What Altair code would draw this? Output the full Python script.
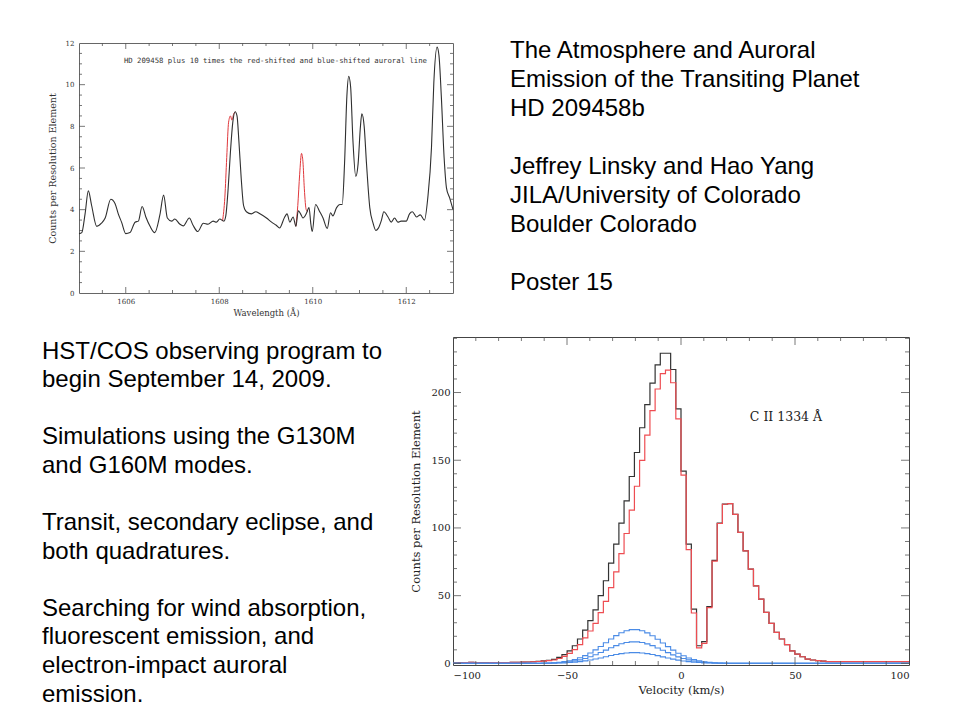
import altair as alt
import pandas as pd

# ---------------- top panel: spectrum near 1610 A ----------------
wl_black = [1605.00, 1605.06, 1605.13, 1605.20, 1605.27, 1605.38, 1605.48, 1605.56, 1605.68, 1605.77,
            1605.84, 1605.91, 1606.00, 1606.09, 1606.20, 1606.27, 1606.35, 1606.43, 1606.52, 1606.62,
            1606.73, 1606.81, 1606.89, 1606.98, 1607.05, 1607.16, 1607.23, 1607.36, 1607.44, 1607.54,
            1607.66, 1607.76, 1607.87, 1607.94, 1608.01, 1608.10, 1608.14, 1608.19, 1608.24, 1608.29,
            1608.34, 1608.38, 1608.42, 1608.47, 1608.52, 1608.58, 1608.69, 1608.78, 1608.87, 1609.01,
            1609.12, 1609.22, 1609.29, 1609.40, 1609.45, 1609.51, 1609.58, 1609.64, 1609.69, 1609.74,
            1609.79, 1609.86, 1609.92, 1609.96, 1609.99, 1610.06, 1610.15, 1610.22, 1610.31, 1610.38,
            1610.43, 1610.51, 1610.58, 1610.63, 1610.68, 1610.73, 1610.77, 1610.81, 1610.86, 1610.92,
            1610.97, 1611.02, 1611.05, 1611.10, 1611.15, 1611.22, 1611.29, 1611.35, 1611.40, 1611.47,
            1611.52, 1611.61, 1611.68, 1611.75, 1611.82, 1611.89, 1612.00, 1612.07, 1612.13, 1612.22,
            1612.30, 1612.39, 1612.46, 1612.54, 1612.59, 1612.66, 1612.70, 1612.75, 1612.81, 1612.86,
            1612.93, 1613.00]
cnt_black = [2.85, 2.9, 3.8, 4.9, 4.2, 3.2, 3.35, 3.6, 4.5, 4.3,
             3.8, 3.4, 2.85, 2.9, 3.4, 3.45, 4.15, 3.65, 3.2, 2.9,
             3.75, 4.7, 3.6, 3.45, 3.55, 3.3, 3.22, 3.6, 3.25, 2.95,
             3.35, 3.3, 3.45, 3.4, 3.55, 3.45, 3.7, 5.0, 6.8, 8.2,
             8.7, 8.5, 7.3, 5.5, 4.2, 3.9, 3.8, 3.9, 3.8, 3.6,
             3.4, 3.25, 3.12, 3.65, 3.8, 3.4, 3.65, 3.2, 3.95, 3.8,
             3.6, 3.8, 4.1, 3.3, 2.95, 4.25, 3.9, 3.6, 3.1, 3.85,
             3.7, 4.1, 4.25, 4.25, 6.2, 9.45, 10.4, 9.9, 7.3, 5.6,
             6.2, 8.0, 8.6, 8.0, 6.2, 4.1, 3.35, 3.0, 3.1, 3.5,
             3.9, 3.65, 3.4, 3.6, 3.4, 3.45, 3.45, 3.8, 3.9, 3.65,
             3.75, 3.5, 4.55, 7.0, 10.1, 11.8, 11.4, 9.45, 6.5, 5.05,
             4.55, 4.0]
wl_red1 = [1608.07, 1608.12, 1608.16, 1608.20, 1608.24, 1608.27, 1608.31, 1608.34]
cnt_red1 = [3.45, 4.6, 6.5, 8.2, 8.5, 8.3, 8.6, 8.7]
wl_red2 = [1609.64, 1609.68, 1609.72, 1609.76, 1609.79, 1609.82, 1609.86, 1609.90]
cnt_red2 = [3.2, 4.2, 5.7, 6.7, 6.3, 5.0, 4.0, 3.9]

# ---------------- bottom panel: C II 1334 profile ----------------
bin_width = 2.27
vel_edges = [-100.0] + [round(bin_width * k, 2) for k in range(-43, 44)] + [100.0]

black_cnt = ([0.2, 0.3, 0.6, 0.7, 0.5, 0.4, 0.4, 0.5, 0.5, 0.6, 0.6, 0.7, 0.8, 0.9] +
             [1.0, 1.2, 1.5, 1.8, 2.3, 3.0, 4.4, 6.4, 9.3, 13,
              18, 24.5, 31.5, 39.5, 50, 61, 74, 88, 103.6, 120,
              138, 155.7, 174, 191, 207, 220.4, 229, 229, 217, 188,
              142, 88, 40, 13, 16, 42, 76, 103.6, 117.6, 118,
              110, 96.7, 83, 69.6, 57.3, 47.5, 37.6, 29.5, 22.9, 18,
              13.8, 9.3, 6.9, 4.9, 3.2, 2.5, 2.0, 1.7] +
             [1.3] * 16)
red_cnt = ([0.2, 0.3, 0.6, 0.7, 0.5, 0.4, 0.4, 0.5, 0.5, 0.6, 0.6, 0.7, 0.8, 0.9] +
           [1.0, 1.15, 1.4, 1.6, 2.0, 2.5, 3.6, 5.1, 7.4, 10.2,
            13.9, 18.8, 23.9, 29.6, 37.5, 45.8, 56, 67.5, 81, 95.9,
            113.1, 130.8, 149.9, 168.5, 186.6, 202.6, 213.9, 216.6, 207.2, 180.5,
            139, 84, 37.2, 11.5, 14.8, 41.2, 75.5, 103.3, 117.5, 118,
            110, 96.7, 83, 69.6, 57.3, 47.5, 37.6, 29.5, 22.9, 18,
            13.8, 9.3, 6.9, 4.9, 3.2, 2.5, 2.0, 1.7] +
           [1.3] * 16)
blue_hi = ([0.0] * 14 +
           [0.03, 0.05, 0.09, 0.17, 0.29, 0.48, 0.79, 1.26, 1.93, 2.85,
            4.1, 5.7, 7.65, 9.95, 12.5, 15.25, 18.0, 20.5, 22.6, 24.1,
            24.9, 24.9, 24.1, 22.5, 20.4, 17.8, 15.1, 12.4, 9.8, 7.5,
            5.6, 4.0, 2.8, 1.9, 1.2, 0.77, 0.47, 0.27, 0.15, 0.08, 0.0] +
           [0.0] * 33)
blue_mid = ([0.0] * 14 +
            [0.02, 0.03, 0.06, 0.11, 0.19, 0.31, 0.51, 0.81, 1.24, 1.82,
             2.62, 3.65, 4.9, 6.37, 8.0, 9.76, 11.5, 13.1, 14.5, 15.4,
             15.9, 15.9, 15.4, 14.4, 13.1, 11.4, 9.66, 7.94, 6.27, 4.8,
             3.58, 2.56, 1.79, 1.22, 0.77, 0.49, 0.3, 0.17, 0.1, 0.05, 0.0] +
            [0.0] * 33)
blue_lo = ([0.0] * 14 +
           [0.01, 0.02, 0.03, 0.05, 0.09, 0.15, 0.25, 0.4, 0.62, 0.91,
            1.31, 1.82, 2.45, 3.18, 4.0, 4.88, 5.76, 6.56, 7.23, 7.71,
            7.97, 7.97, 7.71, 7.2, 6.53, 5.7, 4.83, 3.97, 3.14, 2.4,
            1.79, 1.28, 0.9, 0.61, 0.38, 0.25, 0.15, 0.09, 0.05, 0.03, 0.0] +
           [0.0] * 33)

# ---------------- slide text ----------------
top_text = ["The Atmosphere and Auroral", "Emission of the Transiting Planet", "HD 209458b", "",
            "Jeffrey Linsky and Hao Yang", "JILA/University of Colorado", "Boulder Colorado", "",
            "Poster 15"]
left_text = ["HST/COS observing program to", "begin September 14, 2009.", "",
             "Simulations using the G130M", "and G160M modes.", "",
             "Transit, secondary eclipse, and", "both quadratures.", "",
             "Searching for wind absorption,", "fluorescent emission, and",
             "electron-impact auroral", "emission."]

SERIF = "DejaVu Serif"
TICK_COLOR = "#555555"


def tick_layers(field, scale, axis, orient, majors, minors, W, H, Lmaj, Lmin):
    out = []
    for vals, L in ((majors, Lmaj), (minors, Lmin)):
        df = pd.DataFrame({field: vals})
        base = alt.Chart(df).mark_rule(color=TICK_COLOR, strokeWidth=0.8)
        if orient in ("bottom", "top"):
            xenc = alt.X(f"{field}:Q", scale=scale, axis=axis)
            if orient == "bottom":
                out.append(base.encode(x=xenc, y=alt.value(H), y2=alt.value(H - L)))
            else:
                out.append(base.encode(x=xenc, y=alt.value(0), y2=alt.value(L)))
        else:
            yenc = alt.Y(f"{field}:Q", scale=scale, axis=axis)
            if orient == "left":
                out.append(base.encode(y=yenc, x=alt.value(0), x2=alt.value(L)))
            else:
                out.append(base.encode(y=yenc, x=alt.value(W), x2=alt.value(W - L)))
    return out


# ---------- chart 1 ----------
W1, H1 = 374, 250
xs1 = alt.Scale(domain=[1605, 1613], nice=False, zero=False)
ys1 = alt.Scale(domain=[0, 12], nice=False, zero=False)
xaxis1 = alt.Axis(values=[1606, 1608, 1610, 1612], format="d", ticks=False, domain=False, grid=False,
                  labelFont=SERIF, labelFontSize=7, labelColor="#333", labelPadding=4,
                  title="Wavelength (Å)", titleFont=SERIF, titleFontSize=8.5, titleFontWeight="normal",
                  titleColor="#333", titlePadding=4)
yaxis1 = alt.Axis(values=[0, 2, 4, 6, 8, 10, 12], format="d", ticks=False, domain=False, grid=False,
                  labelFont=SERIF, labelFontSize=7, labelColor="#333", labelPadding=5,
                  title="Counts per Resolution Element", titleFont=SERIF, titleFontSize=9.5,
                  titleFontWeight="normal", titleColor="#333", titlePadding=8)

df_black1 = pd.DataFrame({"wl": wl_black, "counts": cnt_black})
df_red1 = pd.DataFrame({"wl": wl_red1 + wl_red2, "counts": cnt_red1 + cnt_red2,
                        "seg": ["a"] * len(wl_red1) + ["b"] * len(wl_red2)})

X1 = alt.X("wl:Q", scale=xs1, axis=xaxis1)
Y1 = alt.Y("counts:Q", scale=ys1, axis=yaxis1)

red_line1 = alt.Chart(df_red1).mark_line(color="#e0383c", strokeWidth=1, interpolate="monotone").encode(
    x=X1, y=Y1, detail="seg:N")
black_line1 = alt.Chart(df_black1).mark_line(color="#2f2f2f", strokeWidth=1.1, interpolate="monotone").encode(
    x=X1, y=Y1)
annot1 = alt.Chart(pd.DataFrame({"wl": [1605.96], "counts": [11.14],
                                 "t": ["HD 209458 plus 10 times the red-shifted and blue-shifted auroral line"]})
                   ).mark_text(align="left", baseline="middle", font="DejaVu Sans Mono", fontSize=7.3,
                               color="#333").encode(x=X1, y=Y1, text="t:N")

x1_major = [1606, 1608, 1610, 1612]
x1_minor = [1605 + 0.5 * i for i in range(1, 16) if (1605 + 0.5 * i) not in x1_major]
y1_major = [2, 4, 6, 8, 10]
y1_minor = [0.5 * i for i in range(1, 24) if (0.5 * i) not in y1_major]

ticks1 = (tick_layers("wl", xs1, xaxis1, "bottom", x1_major, x1_minor, W1, H1, 6, 3) +
          tick_layers("wl", xs1, xaxis1, "top", x1_major, x1_minor, W1, H1, 6, 3) +
          tick_layers("counts", ys1, yaxis1, "left", y1_major, y1_minor, W1, H1, 6, 3) +
          tick_layers("counts", ys1, yaxis1, "right", y1_major, y1_minor, W1, H1, 6, 3))

chart1 = alt.layer(red_line1, black_line1, annot1, *ticks1).properties(
    width=W1, height=H1, view=alt.ViewBackground(stroke="#666666", strokeWidth=1))

# ---------- chart 2 ----------
W2, H2 = 456, 328
xs2 = alt.Scale(domain=[-100, 100], nice=False, zero=False)
ys2 = alt.Scale(domain=[-1.2, 241], nice=False, zero=False)
xaxis2 = alt.Axis(values=[-100, -50, 0, 50, 100], format="d", ticks=False, domain=False, grid=False,
                  labelFont=SERIF, labelFontSize=10, labelColor="#222", labelPadding=5,
                  title="Velocity (km/s)", titleFont=SERIF, titleFontSize=11.5, titleFontWeight="normal",
                  titleColor="#222", titlePadding=4)
yaxis2 = alt.Axis(values=[0, 50, 100, 150, 200], format="d", ticks=False, domain=False, grid=False,
                  labelFont=SERIF, labelFontSize=10, labelColor="#222", labelPadding=3,
                  title="Counts per Resolution Element", titleFont=SERIF, titleFontSize=11.5,
                  titleFontWeight="normal", titleColor="#222", titlePadding=9)
X2 = alt.X("vel:Q", scale=xs2, axis=xaxis2)
Y2 = alt.Y("counts:Q", scale=ys2, axis=yaxis2)


def step_df(values):
    return pd.DataFrame({"vel": vel_edges, "counts": list(values) + [values[-1]]})


def step_line(values, color, width):
    return alt.Chart(step_df(values)).mark_line(color=color, strokeWidth=width, interpolate="step-after").encode(
        x=X2, y=Y2)


BLUE = "#4a8be6"
l_black = step_line(black_cnt, "#333333", 1.2)
l_red = step_line(red_cnt, "#ee4d52", 1.2)
l_b1 = step_line(blue_hi, BLUE, 1.1)
l_b2 = step_line(blue_mid, BLUE, 1.1)
l_b3 = step_line(blue_lo, BLUE, 1.1)
annot2 = alt.Chart(pd.DataFrame({"vel": [30.2], "counts": [181.9], "t": ["C II 1334 Å"]})).mark_text(
    align="left", baseline="middle", font=SERIF, fontSize=12.5, color="#222").encode(x=X2, y=Y2, text="t:N")

x2_major = [-50, 0, 50]
x2_minor = [v for v in range(-90, 100, 10) if v not in x2_major]
y2_major = [0, 50, 100, 150, 200]
y2_minor = [v for v in range(10, 241, 10) if v not in y2_major]

ticks2 = (tick_layers("vel", xs2, xaxis2, "bottom", x2_major, x2_minor, W2, H2, 8, 4) +
          tick_layers("vel", xs2, xaxis2, "top", x2_major, x2_minor, W2, H2, 8, 4) +
          tick_layers("counts", ys2, yaxis2, "left", y2_major, y2_minor, W2, H2, 8, 4) +
          tick_layers("counts", ys2, yaxis2, "right", y2_major, y2_minor, W2, H2, 8, 4))

chart2 = alt.layer(l_black, l_red, l_b1, l_b2, l_b3, annot2, *ticks2).properties(
    width=W2, height=H2, view=alt.ViewBackground(stroke="#444444", strokeWidth=1))

# ---------- text panels ----------
df_t1 = pd.DataFrame({"i": [i for i, t in enumerate(top_text) if t],
                      "t": [t for t in top_text if t]})
text1 = alt.Chart(df_t1).mark_text(align="left", baseline="alphabetic", font="Liberation Sans",
                                   fontSize=24, color="black").encode(
    x=alt.value(57),
    y=alt.Y("i:Q", scale=alt.Scale(domain=[0, 8], range=[14.5, 246.5]), axis=None),
    text="t:N").properties(width=400, height=250)

df_t2 = pd.DataFrame({"i": [i for i, t in enumerate(left_text) if t],
                      "t": [t for t in left_text if t]})
text2 = alt.Chart(df_t2).mark_text(align="left", baseline="alphabetic", font="Liberation Sans",
                                   fontSize=24, color="black").encode(
    x=alt.value(-37),
    y=alt.Y("i:Q", scale=alt.Scale(domain=[0, 12], range=[21.5, 364.5]), axis=None),
    text="t:N").properties(width=W1, height=H2)

chart = alt.concat(chart1, text1, text2, chart2, columns=2, bounds="flush",
                   spacing={"row": 44, "column": 0}).properties(
    padding={"left": 34, "top": 30, "right": 0, "bottom": 0},
    background="white",
).configure_view(stroke=None)

chart.save("out.html", embed_options={"renderer": "svg", "actions": False})
